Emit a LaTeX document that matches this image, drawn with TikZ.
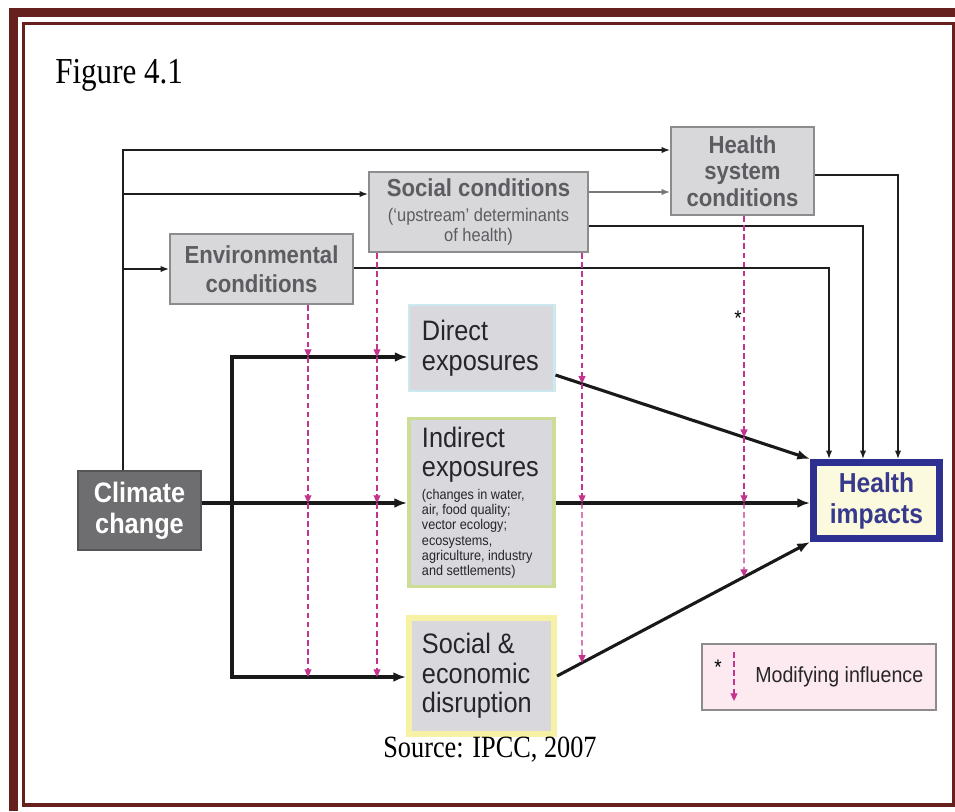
\documentclass[tikz,border=0pt]{standalone}
\usepackage{fontspec}
\setmainfont{Liberation Sans}[FakeStretch=0.9]
\newfontfamily\capfont{Liberation Serif}[FakeStretch=0.85]
\usetikzlibrary{arrows.meta}
\definecolor{framered}{RGB}{102,33,31}
\definecolor{condfill}{RGB}{216,216,218}
\definecolor{condline}{RGB}{140,140,142}
\definecolor{condtext}{RGB}{92,92,97}
\definecolor{expofill}{RGB}{216,216,221}
\definecolor{expotext}{RGB}{38,38,40}
\definecolor{directline}{RGB}{204,233,240}
\definecolor{indirline}{RGB}{204,222,150}
\definecolor{socline}{RGB}{246,241,165}
\definecolor{climfill}{RGB}{110,110,112}
\definecolor{climline}{RGB}{85,85,88}
\definecolor{impline}{RGB}{45,48,145}
\definecolor{impfill}{RGB}{251,249,222}
\definecolor{imptext}{RGB}{55,58,140}
\definecolor{legfill}{RGB}{253,234,241}
\definecolor{modpink}{RGB}{196,51,142}
\definecolor{linedark}{RGB}{30,30,30}
\definecolor{linegray}{RGB}{120,120,120}

\begin{document}
\begin{tikzpicture}[x=0.025cm,y=-0.025cm,>={Latex[length=6pt,width=4.5pt]},
  cond/.style={draw=condline,line width=1.4pt,fill=condfill,text=condtext,align=center,inner sep=0pt,font=\fontsize{17.5}{19}\selectfont\bfseries},
  expo/.style={fill=expofill,text=expotext,align=flush left,text width=2.975cm,inner xsep=0.325cm,inner ysep=0pt,font=\fontsize{20}{21}\selectfont,
    execute at begin node={\spaceskip0pt\xspaceskip0pt\relax}},
  conn/.style={line width=0.9pt,draw=linedark},
  main/.style={line width=2.2pt,draw=black!90,>={Latex[length=9pt,width=7pt]}},
  mod/.style={draw=modpink,line width=0.8pt,dash pattern=on 4pt off 2.5pt,-{Triangle[length=5.5pt,width=5pt]}}]
\useasboundingbox (0,0) rectangle (955,811);
% page border
\fill[framered] (9,8) rectangle (955,17);
\fill[framered] (9,8) rectangle (18,811);
\draw[framered,line width=2.2pt] (23.5,23.5) rectangle (953.5,805);
\node[anchor=base west,inner sep=0pt,font=\capfont\fontsize{26}{28}\selectfont] (fig) at (55,83) {Figure 4.1};

\node[cond,minimum width=3.575cm,minimum height=2.2cm] (hsys) at (742.5,171) {Health\\system\\conditions};
\node[cond,minimum width=5.475cm,minimum height=2cm] (social) at (478.5,212) {Social conditions\\[-1pt]{\mdseries\fontsize{13}{15}\selectfont (‘upstream’ determinants}\\[-4.4pt]{\mdseries\fontsize{13}{15}\selectfont of health)}};
\node[cond,minimum width=4.575cm,minimum height=1.75cm] (env) at (261.5,269) {Environmental\\[2pt]conditions};
\node[draw=climline,fill=climfill,text=white,line width=1pt,minimum width=3.075cm,minimum height=1.975cm,align=center,font=\fontsize{20}{22}\selectfont\bfseries] (climate) at (139.5,510.5) {Climate\\change};

\node[expo,draw=directline,line width=2.1pt,minimum height=2.15cm] (direct) at (481.5,348) {Direct\\exposures};
\node[expo,draw=indirline,line width=2.8pt,minimum height=4.2cm] (indirect) at (481.5,502.5) {Indirect\\exposures\\[-4.7pt]\parbox[t]{2.975cm}{\raggedright\fontsize{10}{10.8}\selectfont (changes in water,\\air, food quality;\\vector ecology;\\ecosystems,\\agriculture, industry\\and settlements)}};
\node[expo,draw=socline,line width=4.3pt,minimum height=2.9cm] (socecon) at (481.5,676) {Social \&\\economic\\disruption};

\node[draw=impline,line width=5pt,fill=impfill,text=imptext,minimum width=3.15cm,minimum height=1.9cm,align=center,font=\fontsize{19.5}{22}\selectfont\bfseries] (impacts) at (876.5,500.5) {Health\\impacts};

\node[font=\fontsize{15}{17}\selectfont] (star) at (738,318) {*};

% legend
\node[draw=condline,fill=legfill,line width=0.8pt,minimum width=5.85cm,minimum height=1.65cm] (legend) at (819,677) {};
\node[anchor=west,inner sep=0pt,text=expotext,font=\fontsize{15.5}{17}\selectfont] (legtxt) at (755,677) {Modifying influence};
\node[font=\fontsize{15}{17}\selectfont] (legstar) at (718,667) {*};
\coordinate (la) at (734,652);
\coordinate (lb) at (734,701);
\draw[mod] (la) -- (lb);

% thin connectors
\coordinate (ctop) at (123,150);
\coordinate (csoc) at (123,194);
\coordinate (cenv) at (123,269);
\draw[conn,->] (climate.north -| ctop) -- (ctop) -- (ctop -| hsys.west);
\draw[conn,->] (csoc) -- (csoc -| social.west);
\draw[conn,->] (cenv) -- (cenv -| env.west);
\draw[conn,draw=linegray,->] (social.east |- 0,192) -- (hsys.west |- 0,192);
\coordinate (khs) at (898,175);
\coordinate (ksoc) at (863,226);
\coordinate (kenv) at (829,268);
\draw[conn,->] (hsys.east |- khs) -- (khs) -- (khs |- impacts.north);
\draw[conn,->] (social.east |- ksoc) -- (ksoc) -- (ksoc |- impacts.north);
\draw[conn,->] (env.east |- kenv) -- (kenv) -- (kenv |- impacts.north);

% thick connectors
\coordinate (jtop) at (232,357);
\coordinate (jmain) at (232,503);
\coordinate (jbot) at (232,677);
\draw[main,->] (climate.east |- jmain) -- (jmain -| indirect.west);
\draw[main,<->] (jtop -| direct.west) -- (jtop) -- (jbot) -- (jbot -| socecon.west);
\coordinate (dA) at (direct.east |- 0,375);
\coordinate (dC) at (socecon.east);
\coordinate (hA) at (impacts.north west);
\coordinate (hC) at (impacts.south west);
\draw[main,->] (dA) -- (hA);
\draw[main,->] (indirect.east |- jmain) -- (jmain -| impacts.west);
\draw[main,->] (dC) -- (hC);

% modifying influences
\foreach \xx/\src in {308/env,377/social}{
  \draw[mod] (\src.south -| \xx,0) -- (jtop -| \xx,0);
  \draw[mod] (jtop -| \xx,0) -- (jmain -| \xx,0);
  \draw[mod] (jmain -| \xx,0) -- (jbot -| \xx,0);
}
\foreach \xx/\src in {582/social,744/hsys}{
  \coordinate (pa) at (intersection of dA--hA and \xx,0--\xx,800);
  \coordinate (pc) at (intersection of dC--hC and \xx,0--\xx,800);
  \draw[mod] (\src.south -| pa) -- (pa);
  \draw[mod] (pa) -- (jmain -| pa);
  \draw[mod] (jmain -| pa) -- (pc);
}

\node[anchor=base,inner sep=0pt,font=\capfont\fontsize{22}{24}\selectfont] (src) at (490,757) {Source: IPCC, 2007};
\end{tikzpicture}
\end{document}
